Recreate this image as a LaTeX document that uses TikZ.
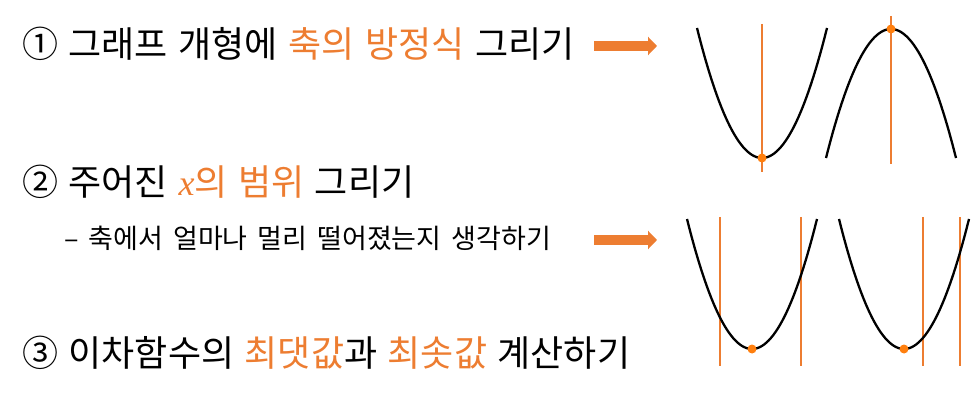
\documentclass[tikz,border=0pt]{standalone}
\usepackage{fontspec}
\usepackage{xcolor}
\usetikzlibrary{arrows.meta}
\setmainfont{Noto Sans CJK KR}
\newfontfamily\varfont{Liberation Serif}
\definecolor{accent}{HTML}{ED7D31}
\definecolor{dotorange}{HTML}{FF7F0E}
\newcommand{\titlefont}{\fontsize{36}{40}\selectfont\spaceskip=10.5pt\relax}
\newcommand{\hintfont}{\fontsize{27}{30}\selectfont\spaceskip=10pt\relax}
\tikzset{
  title/.style={anchor=base west, inner sep=0pt, font=\titlefont},
  subtitle/.style={anchor=base west, inner sep=0pt, font=\hintfont},
  goarrow/.style={accent, line width=10pt, -{Triangle[length=9pt,width=18pt]}},
  curve/.style={black, line width=2.3pt},
  axisline/.style={accent, line width=2.4pt},
  vertex/.style={circle, fill=dotorange, inner sep=0pt, minimum size=9pt}
}

\begin{document}
\begin{tikzpicture}[x=1pt,y=-1pt]
  \useasboundingbox (0,0) rectangle (974,403);

  % Steps
  \node[title] (step1) at (22,58) {① 그래프 개형에 \textcolor{accent}{축의 방정식} 그리기};
  \node[title] (step2) at (22,196) {② 주어진 \textcolor{accent}{{\varfont\itshape x}의 범위} 그리기};
  \node[subtitle] (hint) at (64,249) {– 축에서 얼마나 멀리 떨어졌는지 생각하기};
  \node[title] (step3) at (22,366) {③ 이차함수의 \textcolor{accent}{최댓값}과 \textcolor{accent}{최솟값} 계산하기};

  % Arrows
  \coordinate (a1) at (594,46);
  \coordinate (b1) at (657,46);
  \coordinate (a2) at (594,240);
  \coordinate (b2) at (657,240);
  \draw[goarrow] (a1) -- (b1);
  \draw[goarrow] (a2) -- (b2);

  % Axis of symmetry
  \draw[axisline] (762,24) -- (762,172);
  \draw[curve] plot[domain=-65:65, samples=60] ({762+\x}, {158-130*(\x/65)^2});
  \node[vertex] (top1) at (762,158) {};
  \draw[axisline] (891,16) -- (891,164);
  \draw[curve] plot[domain=-65:65, samples=60] ({891+\x}, {29+129*(\x/65)^2});
  \node[vertex] (top2) at (891,29) {};

  % Range of x
  \foreach \c/\l/\r in {752/720/801, 904/923/960} {
    \draw[axisline] (\l,217) -- (\l,366);
    \draw[axisline] (\r,217) -- (\r,366);
    \draw[curve] plot[domain=-65:65, samples=60] ({\c+\x}, {349-130*(\x/65)^2});
    \node[vertex] at (\c,349) {};
  }
\end{tikzpicture}
\end{document}
